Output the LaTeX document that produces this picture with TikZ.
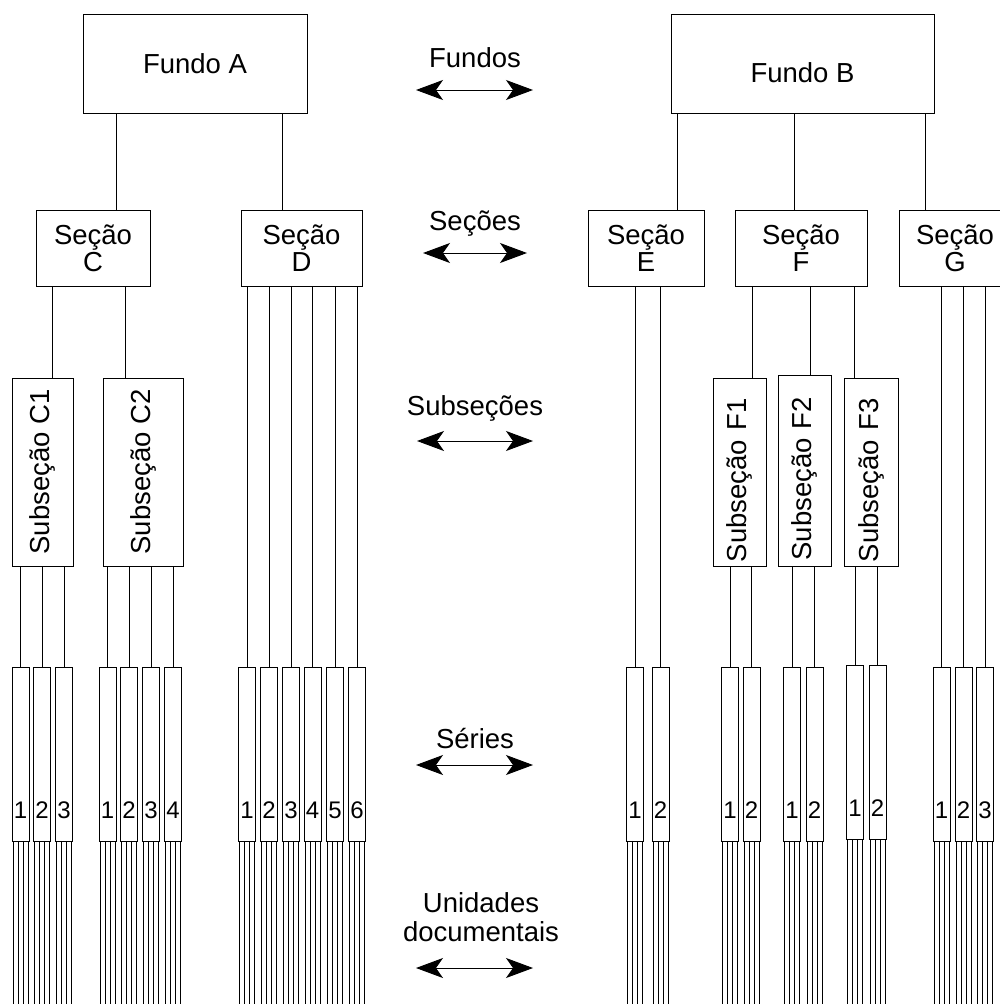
\documentclass[tikz,border=0pt]{standalone}
\usepackage{fontspec}
\setmainfont{Liberation Sans}
\usetikzlibrary{arrows.meta,positioning}

\begin{document}
\begin{tikzpicture}[x=1pt, y=-1pt, >={Stealth[length=27pt, width=20pt, inset=7pt]},
  every node/.style={font=\fontsize{27.5}{27}\selectfont},
  plainbox/.style={draw, line width=0.9pt, inner sep=0pt},
  secaobox/.style={plainbox, align=center, minimum height=76pt},
  subbox/.style={plainbox, rotate=90, minimum width=188pt},
  subboxlow/.style={subbox, text width=180pt, align=left},
  seriebox/.style={plainbox, minimum width=17pt, minimum height=174pt,
                   text height=128pt, text depth=0pt, font=\fontsize{24}{24}\selectfont},
  levellabel/.style={anchor=base, inner sep=0pt},
  levelarrow/.style={<->, line width=1pt},
  conn/.style={line width=0.9pt}]
\useasboundingbox (0,0) rectangle (999,1004);
\coordinate (bottom) at (0,1004);

% fundos
\node[plainbox, minimum width=224pt, minimum height=99pt] (fundoA) at (195,63.5) {Fundo A};
\node[plainbox, minimum width=263pt, minimum height=99pt, text height=38pt, text depth=0pt]
  (fundoB) at (802.5,63.5) {Fundo B};

% secoes
\node[secaobox, minimum width=114pt] (secC) at (93,248) {Seção\\C};
\node[secaobox, minimum width=121pt] (secD) at (301.5,248) {Seção\\D};
\node[secaobox, minimum width=116pt] (secE) at (646,248) {Seção\\E};
\node[secaobox, minimum width=132pt] (secF) at (801,248) {Seção\\F};
\node[secaobox, minimum width=112pt] (secG) at (955,248) {Seção\\G};

% subsecoes
\node[subbox, minimum height=61pt] (subC1) at (42.5,472) {Subseção C1};
\node[subbox, minimum height=80pt] (subC2) at (143,472) {Subseção C2};
\node[subboxlow, minimum height=53pt] (subF1) at (739.5,472) {Subseção F1};
\node[subboxlow, minimum height=53pt, minimum width=191pt] (subF2) at (804.5,470.5) {Subseção F2};
\node[subboxlow, minimum height=54pt] (subF3) at (871,472) {Subseção F3};

% series
\foreach \x [count=\i] in {20.5,42,64} \node[seriebox] (sC1-\i) at (\x,754) {\i};
\foreach \x [count=\i] in {107.5,129,151,173} \node[seriebox] (sC2-\i) at (\x,754) {\i};
\foreach \x [count=\i] in {247,269,291,312.5,335,357} \node[seriebox] (sD-\i) at (\x,754) {\i};
\foreach \x [count=\i] in {635,660.5} \node[seriebox] (sE-\i) at (\x,754) {\i};
\foreach \x [count=\i] in {730,751.5} \node[seriebox] (sF1-\i) at (\x,754) {\i};
\foreach \x [count=\i] in {792,814.5} \node[seriebox] (sF2-\i) at (\x,754) {\i};
\foreach \x [count=\i] in {855,877.5} \node[seriebox] (sF3-\i) at (\x,752) {\i};
\foreach \x [count=\i] in {941.5,963.5,985} \node[seriebox] (sG-\i) at (\x,754) {\i};

% fundos -> secoes
\draw[conn] (116,0 |- fundoA.south) -- (116,0 |- secC.north);
\draw[conn] (282,0 |- fundoA.south) -- (282,0 |- secD.north);
\draw[conn] (677,0 |- fundoB.south) -- (677,0 |- secE.north);
\draw[conn] (794,0 |- fundoB.south) -- (794,0 |- secF.north);
\draw[conn] (925,0 |- fundoB.south) -- (925,0 |- secG.north);

% secoes -> subsecoes
\draw[conn] (52,0 |- secC.south) -- (52,0 |- subC1.east);
\draw[conn] (125,0 |- secC.south) -- (125,0 |- subC2.east);
\draw[conn] (752,0 |- secF.south) -- (752,0 |- subF1.east);
\draw[conn] (810,0 |- secF.south) -- (810,0 |- subF2.east);
\draw[conn] (854,0 |- secF.south) -- (854,0 |- subF3.east);

% -> series
\foreach \i in {1,2,3} \draw[conn] (sC1-\i.north |- subC1.west) -- (sC1-\i.north);
\foreach \i in {1,...,4} \draw[conn] (sC2-\i.north |- subC2.west) -- (sC2-\i.north);
\foreach \i in {1,...,6} \draw[conn] (sD-\i.north |- secD.south) -- (sD-\i.north);
\foreach \i in {1,2} \draw[conn] (sE-\i.north |- secE.south) -- (sE-\i.north);
\foreach \i in {1,2} \draw[conn] (sF1-\i.north |- subF1.west) -- (sF1-\i.north);
\foreach \i in {1,2} \draw[conn] (sF2-\i.north |- subF2.west) -- (sF2-\i.north);
\foreach \i in {1,2} \draw[conn] (sF3-\i.north |- subF3.west) -- (sF3-\i.north);
\foreach \i in {1,2,3} \draw[conn] (sG-\i.north |- secG.south) -- (sG-\i.north);

% unidades documentais
\foreach \s in {sC1-1,sC1-2,sC1-3,sC2-1,sC2-2,sC2-3,sC2-4,
                sD-1,sD-2,sD-3,sD-4,sD-5,sD-6,sE-1,sE-2,
                sF1-1,sF1-2,sF2-1,sF2-2,sF3-1,sF3-2,sG-1,sG-2,sG-3}
  \foreach \dx in {-7.5,-2.5,2.5,7.5}
    \draw[conn] ([xshift=\dx pt]\s.south) -- ([xshift=\dx pt]\s.south |- bottom);

% niveis
\node[levellabel] (lvFundos) at (475,67) {Fundos};
\draw[levelarrow] ([xshift=-59pt,yshift=-23pt]lvFundos.base) -- ([xshift=58pt,yshift=-23pt]lvFundos.base);
\node[levellabel] (lvSecoes) at (475,230) {Seções};
\draw[levelarrow] ([xshift=-52pt,yshift=-23pt]lvSecoes.base) -- ([xshift=52pt,yshift=-23pt]lvSecoes.base);
\node[levellabel] (lvSubsecoes) at (475,415) {Subseções};
\draw[levelarrow] ([xshift=-58pt,yshift=-26pt]lvSubsecoes.base) -- ([xshift=58pt,yshift=-26pt]lvSubsecoes.base);
\node[levellabel] (lvSeries) at (475,748) {Séries};
\draw[levelarrow] ([xshift=-59pt,yshift=-17pt]lvSeries.base) -- ([xshift=58pt,yshift=-17pt]lvSeries.base);
\node[anchor=south, inner sep=0pt, align=center, font=\fontsize{27.5}{29}\selectfont]
  (lvUnidades) at (481,942) {Unidades\\documentais};
\draw[levelarrow] ([xshift=-65pt,yshift=-26pt]lvUnidades.south) -- ([xshift=52pt,yshift=-26pt]lvUnidades.south);
\end{tikzpicture}
\end{document}
